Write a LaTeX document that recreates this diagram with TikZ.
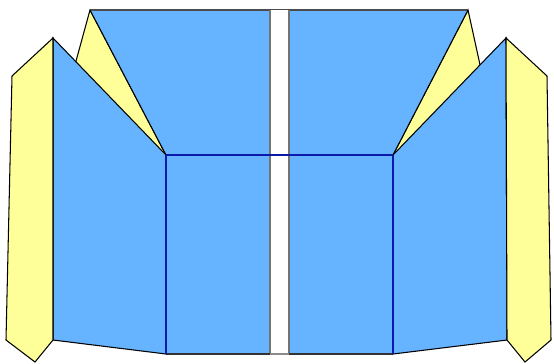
\documentclass[tikz,border=0pt]{standalone}
\begin{document}
\begin{tikzpicture}[x=0.02cm,y=-0.02cm,
  blue fill/.style={fill=panelblue},
  yel/.style={fill=paleyellow,draw=black,line width=0.6pt,line join=miter},
  pan/.style={fill=panelblue,draw=black,line width=0.6pt},
  inner/.style={draw=innerblue,line width=0.9pt}]
\definecolor{panelblue}{HTML}{66B3FF}
\definecolor{paleyellow}{HTML}{FFFF99}
\definecolor{innerblue}{HTML}{0A1AAA}
\useasboundingbox (0,0) rectangle (554,363);
% named points
\coordinate (TL) at (90,10);
\coordinate (TR) at (468,10);
\coordinate (IL) at (166,155);
\coordinate (IR) at (393,155);
\coordinate (BL) at (166,354);
\coordinate (BR) at (393,354);
\coordinate (PLt) at (53,38);
\coordinate (PLb) at (53,340);
\coordinate (PRt) at (506,38);
\coordinate (PRb) at (507,340);
% yellow side triangles (behind)
\draw[yel] (TL) -- (IL) -- (70,83) -- cycle;
\draw[yel] (TR) -- (IR) -- (484,83) -- cycle;
% top trapezoid
\fill[panelblue] (TL) -- (TR) -- (IR) -- (IL) -- cycle;
\draw[black!70,line width=1.1pt] (TL) -- (TR);
\draw[black,line width=0.6pt] (TL) -- (IL) (TR) -- (IR);
% center rectangle
\fill[panelblue] (IL) rectangle (BR);
% gap
\fill[white] (270,10) rectangle (289,354);
\draw[black!55,line width=0.9pt] (270,10) -- (270,354) (289,10) -- (289,354);
% inner rectangle outline
\draw[inner] (IL) -- (IR) -- (BR);
\draw[inner] (IL) -- (BL);
\draw[black!80,line width=0.6pt] (BL) -- (270,354) (289,354) -- (BR);
\draw[black!45,line width=0.6pt] (270,354) -- (289,354);
% left panel
\draw[pan] (PLt) -- (IL) -- (BL) -- (PLb) -- cycle;
\draw[inner] (IL) -- (BL);
% right panel
\draw[pan] (PRt) -- (IR) -- (BR) -- (PRb) -- cycle;
\draw[inner] (IR) -- (BR);
% yellow strips
\draw[yel] (PLt) -- (12,76) -- (6,340) -- (35,362) -- (PLb) -- cycle;
\draw[yel] (PRt) -- (547,76) -- (551,340) -- (525,362) -- (PRb) -- cycle;
\end{tikzpicture}
\end{document}
